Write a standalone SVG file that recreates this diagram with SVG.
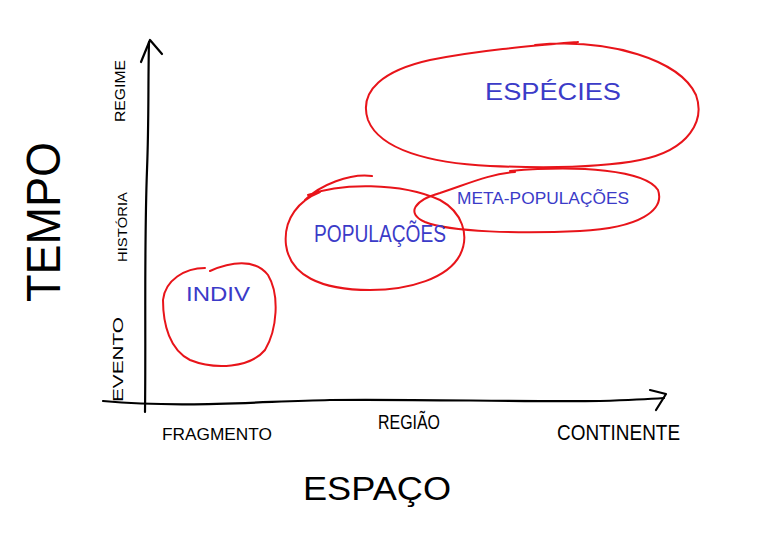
<svg xmlns="http://www.w3.org/2000/svg" width="762" height="533" viewBox="0 0 762 533">
<style>
.ax{fill:none;stroke:#000;stroke-width:2.2;stroke-linecap:round;stroke-linejoin:round}
.ring{fill:none;stroke:#e8141a;stroke-width:2;stroke-linecap:round;stroke-linejoin:round}
.lbl{font-family:"Liberation Sans",Arial,sans-serif;fill:#000;font-weight:normal}
.blue{font-family:"Liberation Sans",Arial,sans-serif;fill:#3b3bc8}
</style>
<rect width="762" height="533" fill="#fff"/>
<g id="connectors">
<path id="axis-y" class="ax" d="M145,412 C146,330 144,250 147,170 C149,120 148,80 149,42"/>
<path class="ax" d="M141,62 L150,40 L162,54"/>
<path id="axis-x" class="ax" d="M103,401 C180,408 250,402 330,400 C420,399 520,402 600,401 C630,400 650,399 664,398"/>
<path class="ax" d="M650,390 L666,394 L656,410"/>
</g>
<g id="tempo"><text class="lbl" font-size="48" transform="translate(60,302) rotate(-90)" textLength="160" lengthAdjust="spacingAndGlyphs">TEMPO</text></g>
<g id="regime"><text class="lbl" font-size="15" transform="translate(125,122) rotate(-90)" textLength="62" lengthAdjust="spacingAndGlyphs">REGIME</text></g>
<g id="historia"><text class="lbl" font-size="12" transform="translate(127,262) rotate(-90)" textLength="70" lengthAdjust="spacingAndGlyphs">HISTÓRIA</text></g>
<g id="evento"><text class="lbl" font-size="15" transform="translate(123,402) rotate(-90)" textLength="85" lengthAdjust="spacingAndGlyphs">EVENTO</text></g>
<g id="fragmento"><text class="lbl" font-size="16" x="162" y="440" textLength="110" lengthAdjust="spacingAndGlyphs">FRAGMENTO</text></g>
<g id="regiao"><text class="lbl" font-size="20" x="378" y="429" textLength="62" lengthAdjust="spacingAndGlyphs">REGIÃO</text></g>
<g id="continente"><text class="lbl" font-size="22" x="557" y="440" textLength="123" lengthAdjust="spacingAndGlyphs">CONTINENTE</text></g>
<g id="espaco"><text class="lbl" font-size="34" x="303" y="500" textLength="148" lengthAdjust="spacingAndGlyphs">ESPAÇO</text></g>
<g id="especies">
<path class="ring" d="M535,45 C610,38 680,60 696,95 C705,120 690,150 640,160 C600,168 540,168 490,166 C430,163 380,150 368,120 C358,90 385,70 430,60 C480,50 530,46 578,42"/>
<text class="blue" font-size="24" x="485" y="100" textLength="136" lengthAdjust="spacingAndGlyphs">ESPÉCIES</text>
</g>
<g id="metapop">
<path class="ring" d="M510,171 C580,165 645,170 658,190 C665,210 640,228 580,231 C520,234 450,232 425,222 C405,213 415,200 440,193 C470,183 490,174 515,172"/>
<text class="blue" font-size="17" x="457" y="204" textLength="172" lengthAdjust="spacingAndGlyphs">META-POPULAÇÕES</text>
</g>
<g id="populacoes">
<path class="ring" d="M305,200 C320,185 350,173 372,176 M308,195 C340,183 400,182 440,200 C462,212 470,235 460,255 C448,278 410,290 370,290 C320,290 290,275 286,245 C283,218 300,200 320,192"/>
<text class="blue" font-size="24" x="314" y="242" textLength="132" lengthAdjust="spacingAndGlyphs">POPULAÇÕES</text>
</g>
<g id="indiv">
<path class="ring" d="M210,271 C230,262 255,258 268,275 C280,295 277,330 265,350 C250,368 215,370 190,360 C170,350 163,325 163,300 C165,280 185,268 205,268"/>
<text class="blue" font-size="20" x="186" y="301" textLength="64" lengthAdjust="spacingAndGlyphs">INDIV</text>
</g>
</svg>
